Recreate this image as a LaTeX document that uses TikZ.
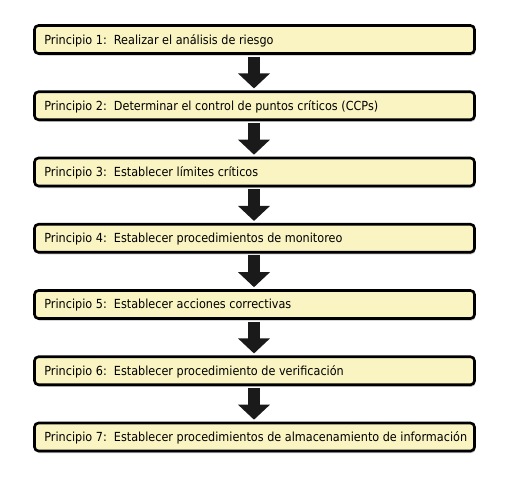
\documentclass[tikz,border=0pt]{standalone}
\usepackage{fontspec}
\setmainfont{DejaVu Sans Condensed}
\usetikzlibrary{arrows.meta,shadows}
\definecolor{boxfill}{HTML}{FAF4C2}
\definecolor{arrowcol}{HTML}{1A1A1A}
\tikzset{
  pbox/.style={draw=black, line width=2.6pt, rounded corners=4pt, fill=boxfill,
    minimum width=440pt, minimum height=28pt, inner sep=0pt,
    drop shadow={shadow xshift=1pt, shadow yshift=-2pt, fill=black!35, opacity=0.7}},
  ptext/.style={anchor=west, inner sep=0pt, font=\fontsize{12.5}{14}\selectfont},
  parrow/.style={draw=arrowcol, line width=12pt, -{Triangle[width=31pt,length=15pt]}, shorten <=1.8pt, shorten >=2pt}
}
\begin{document}
\begin{tikzpicture}[x=1pt,y=1pt]
\useasboundingbox (0,0) rectangle (511,-480);
\foreach \i/\t in {1/{Realizar el análisis de riesgo},
                   2/{Determinar el control de puntos críticos (CCPs)},
                   3/{Establecer límites críticos},
                   4/{Establecer procedimientos de monitoreo},
                   5/{Establecer acciones correctivas},
                   6/{Establecer procedimiento de verificación},
                   7/{Establecer procedimientos de almacenamiento de información}}{
  \node[pbox] (p\i) at (254.5,{-39.5-66.25*(\i-1)}) {};
  \node[ptext] (t\i) at ([xshift=11pt,yshift=-1pt]p\i.west) {Principio \i:\ \ \t};
}
\foreach \i [evaluate=\i as \j using int(\i+1)] in {1,...,6}{
  \draw[parrow] (p\i.south -| 254,0) -- (p\j.north -| 254,0);
}
\end{tikzpicture}
\end{document}
